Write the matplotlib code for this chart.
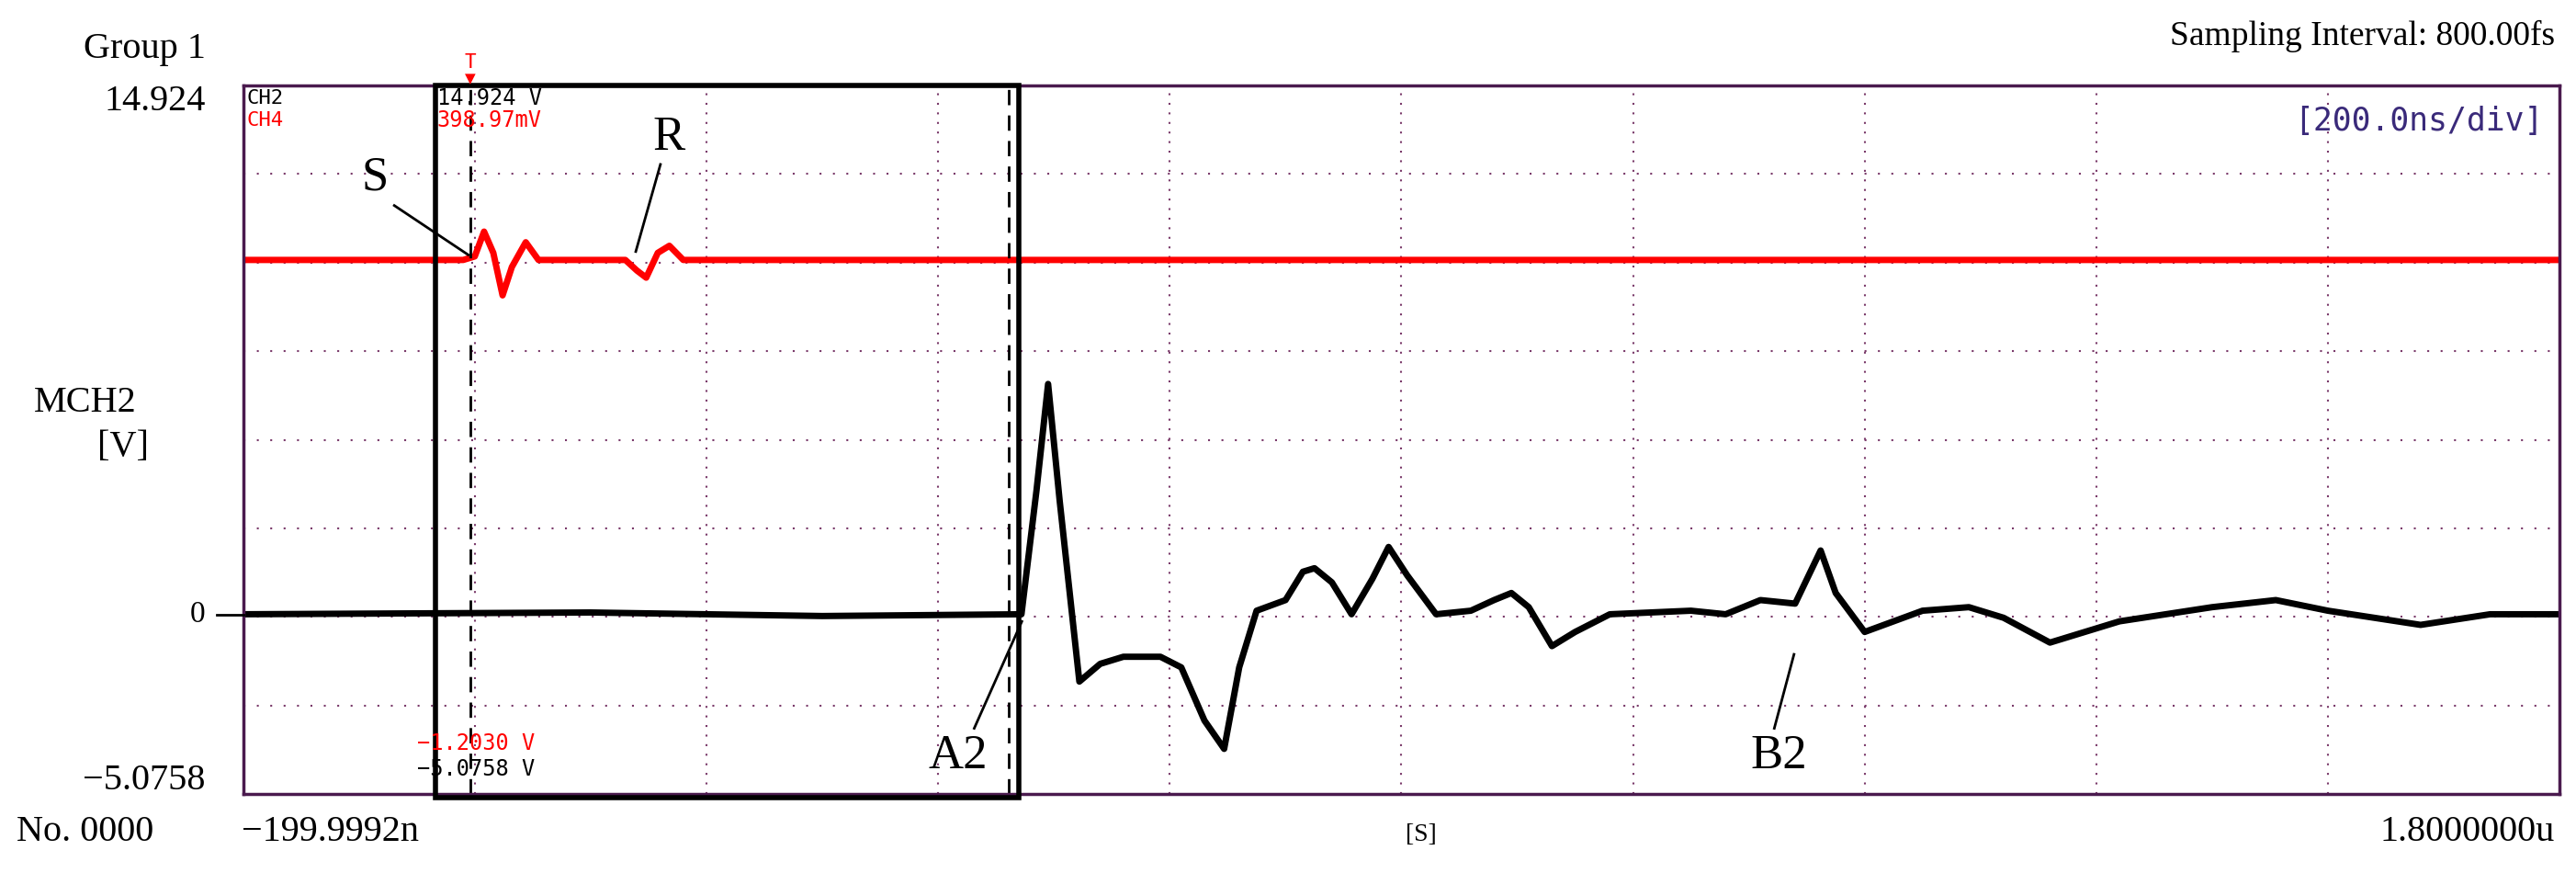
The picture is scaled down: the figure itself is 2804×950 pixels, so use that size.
import numpy as np
import matplotlib.pyplot as plt
from matplotlib.patches import Rectangle

# CH2 (black) key points: time [ns], voltage [V]
ch2_t = [-200, 100, 300, 472, 485, 495, 505, 522, 540, 560, 592, 610, 630, 647, 660, 675,
         700, 715, 725, 740, 757, 775, 789, 805, 830, 860, 880, 895, 910, 930, 950, 980,
         1050, 1080, 1110, 1140, 1162, 1175, 1200, 1250, 1290, 1320, 1360, 1420, 1500,
         1555, 1600, 1680, 1740, 1800]
ch2_v = [0, 0.05, -0.05, 0, 3.5, 6.5, 3.2, -1.9, -1.4, -1.2, -1.2, -1.5, -3.0, -3.8, -1.5, 0.1,
         0.4, 1.2, 1.3, 0.9, 0.0, 1.0, 1.9, 1.1, 0.0, 0.1, 0.4, 0.6, 0.2, -0.9, -0.5, 0.0,
         0.1, 0.0, 0.4, 0.3, 1.8, 0.6, -0.5, 0.1, 0.2, -0.1, -0.8, -0.2, 0.2,
         0.4, 0.1, -0.3, 0.0, 0.0]

# CH4 (red) key points, drawn on the same screen scale
ch4_t = [-200, -10, 0, 8, 16, 24, 32, 44, 55, 70, 130, 140, 148, 158, 168, 180, 1800]
ch4_v = [10.0, 10.0, 10.1, 10.8, 10.2, 9.0, 9.8, 10.5, 10.0, 10.0, 10.0, 9.7, 9.5, 10.2, 10.4, 10.0, 10.0]

xmin, xmax = -199.9992, 1800
ymin, ymax = -5.0758, 14.924

W, H = 1568, 531  # layout measured on a 1568 px wide view
def fx(px): return px / W
def fy(py): return 1 - py / H

purple = '#4a1a4e'
grid_c = '#7a3a6a'
serif = 'Liberation Serif'
mono = 'DejaVu Sans Mono'

fig = plt.figure(figsize=(28.04, 9.5), dpi=100)
ax = fig.add_axes([fx(148), fy(483), fx(1558) - fx(148), fy(52) - fy(483)])
ax.set_xlim(xmin, xmax)
ax.set_ylim(ymin, ymax)
for s in ax.spines.values():
    s.set_color(purple)
    s.set_linewidth(2.5)
ax.set_xticks([])
ax.set_yticks([])

# dotted grid: 10 x 8 divisions
for i in range(1, 10):
    ax.axvline(xmin + i * (xmax - xmin) / 10, color=grid_c, ls=(0, (1, 4)), lw=1.5)
for j in range(1, 8):
    ax.axhline(ymin + j * (ymax - ymin) / 8, color=grid_c, ls=(0, (1, 6)), lw=1.5)

ax.plot(ch4_t, ch4_v, color='red', lw=5)
ax.plot(ch2_t, ch2_v, color='black', lw=5)

# cursors
ax.axvline(-4, color='black', ls=(0, (6, 4)), lw=2)
ax.axvline(461, color='black', ls=(0, (6, 4)), lw=2)

# zero marker
fig.add_artist(plt.Line2D([fx(132), fx(148)], [fy(374), fy(374)], color='black', lw=2))

# highlight box
fig.add_artist(Rectangle((fx(265), fy(485)), fx(620) - fx(265), fy(52) - fy(485),
                         fill=False, ec='black', lw=4))

# trigger marker
fig.text(fx(286), fy(38), 'T', color='red', fontsize=15, family=mono, ha='center', va='center')
fig.text(fx(286), fy(48), '▼', color='red', fontsize=11, ha='center', va='center')

tk = dict(family=serif)
fig.text(fx(125), fy(30), 'Group 1', fontsize=29, ha='right', va='center', **tk)
fig.text(fx(125), fy(62), '14.924', fontsize=29, ha='right', va='center', **tk)
fig.text(fx(52), fy(245), 'MCH2', fontsize=29, ha='center', va='center', **tk)
fig.text(fx(75), fy(272), '[V]', fontsize=29, ha='center', va='center', **tk)
fig.text(fx(125), fy(374), '0', fontsize=24, ha='right', va='center', **tk)
fig.text(fx(125), fy(475), '−5.0758', fontsize=29, ha='right', va='center', **tk)
fig.text(fx(10), fy(506), 'No. 0000', fontsize=29, ha='left', va='center', **tk)
fig.text(fx(147), fy(506), '−199.9992n', fontsize=29, ha='left', va='center', **tk)
fig.text(fx(865), fy(508), '[S]', fontsize=20, ha='center', va='center', **tk)
fig.text(fx(1555), fy(506), '1.8000000u', fontsize=29, ha='right', va='center', **tk)
fig.text(fx(1555), fy(22), 'Sampling Interval: 800.00fs', fontsize=27, ha='right', va='center', **tk)
fig.text(fx(1548), fy(74), '[200.0ns/div]', fontsize=25, ha='right', va='center',
         family=mono, color='#3a2a7a')

fig.text(fx(150), fy(60), 'CH2', fontsize=16, family=mono, va='center')
fig.text(fx(150), fy(73), 'CH4', fontsize=16, family=mono, color='red', va='center')
fig.text(fx(266), fy(60), '14.924 V', fontsize=17, family=mono, va='center')
fig.text(fx(266), fy(73), '398.97mV', fontsize=17, family=mono, color='red', va='center')
fig.text(fx(254), fy(452), '−1.2030 V', fontsize=17, family=mono, color='red', va='center')
fig.text(fx(254), fy(468), '−5.0758 V', fontsize=17, family=mono, va='center')

# annotations
fig.text(fx(228), fy(108), 'S', fontsize=38, ha='center', va='center', **tk)
fig.add_artist(plt.Line2D([fx(240), fx(285)], [fy(125), fy(155)], color='black', lw=2))
fig.text(fx(407), fy(84), 'R', fontsize=38, ha='center', va='center', **tk)
fig.add_artist(plt.Line2D([fx(402), fx(387)], [fy(100), fy(153)], color='black', lw=2))
fig.text(fx(583), fy(460), 'A2', fontsize=38, ha='center', va='center', **tk)
fig.add_artist(plt.Line2D([fx(593), fx(622)], [fy(443), fy(378)], color='black', lw=2))
fig.text(fx(1083), fy(460), 'B2', fontsize=38, ha='center', va='center', **tk)
fig.add_artist(plt.Line2D([fx(1080), fx(1092)], [fy(443), fy(398)], color='black', lw=2))

fig.savefig('out.png', dpi=100)
